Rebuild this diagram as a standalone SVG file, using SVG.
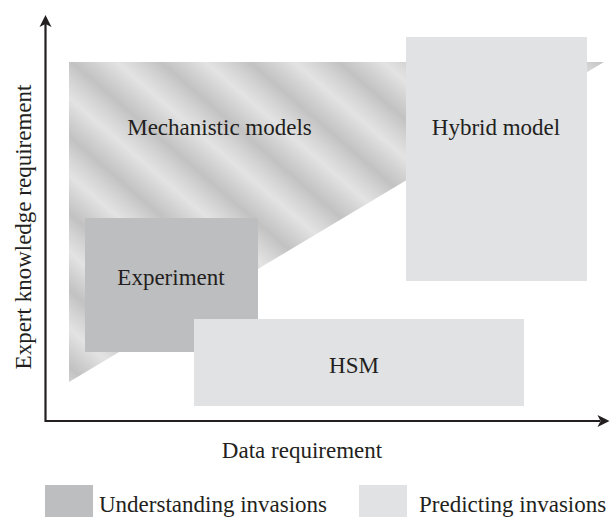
<svg xmlns="http://www.w3.org/2000/svg" width="612" height="517" viewBox="0 0 612 517">
<style>
text{font-family:"Liberation Serif","Times New Roman",serif;font-size:23px;fill:#231f20}
.und{fill:#bdbec0}
.pre{fill:#e1e2e4}
.axis{stroke:#231f20;stroke-width:2.2;fill:none}
.head{fill:#231f20}
</style>
<defs>
<linearGradient id="stripes" gradientUnits="userSpaceOnUse" x1="0" y1="0" x2="38" y2="-44" spreadMethod="repeat">
<stop offset="0" stop-color="#c2c2c2"/>
<stop offset="0.25" stop-color="#d2d2d2"/>
<stop offset="0.5" stop-color="#e3e3e3"/>
<stop offset="0.75" stop-color="#d4d4d4"/>
<stop offset="1" stop-color="#c2c2c2"/>
</linearGradient>
</defs>
<rect width="612" height="517" fill="#fff"/>
<g id="mechanistic">
<polygon points="69,62 604,62 69,382" fill="url(#stripes)"/>
<text x="219.5" y="135" text-anchor="middle">Mechanistic models</text>
</g>
<g id="hybrid">
<rect class="pre" x="406" y="37" width="181" height="244"/>
<text x="496" y="135" text-anchor="middle">Hybrid model</text>
</g>
<g id="experiment">
<rect class="und" x="85" y="218" width="173" height="134"/>
<text x="171" y="285" text-anchor="middle">Experiment</text>
</g>
<g id="hsm">
<rect class="pre" x="194" y="319" width="330" height="87"/>
<text x="354" y="373" text-anchor="middle">HSM</text>
</g>
<g id="axes">
<path class="axis" d="M45.5,24 V421 H600"/>
<path class="head" d="M45.5,15 L51.5,27 L45.5,24 L39.5,27 Z"/>
<path class="head" d="M609.5,421 L597.5,415 L600.5,421 L597.5,427 Z"/>
<text x="302" y="458" text-anchor="middle">Data requirement</text>
<text transform="translate(31,227) rotate(-90)" text-anchor="middle">Expert knowledge requirement</text>
</g>
<g id="legend">
<rect class="und" x="45" y="485" width="48" height="48"/>
<text x="99" y="512">Understanding invasions</text>
<rect class="pre" x="359" y="485" width="48" height="48"/>
<text x="419" y="512">Predicting invasions</text>
</g>
</svg>
